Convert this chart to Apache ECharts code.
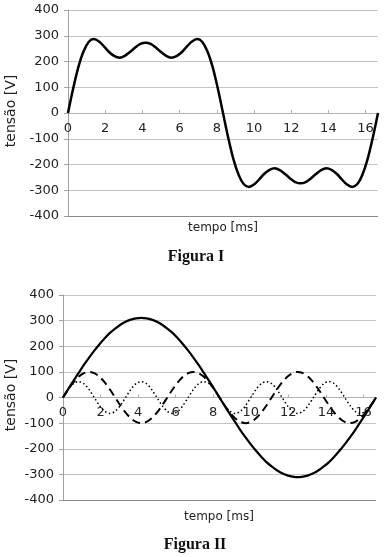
<!DOCTYPE html>
<html>
<head>
<meta charset="utf-8">
<script src="https://cdn.jsdelivr.net/npm/echarts@6/dist/echarts.min.js"></script>
<style>
html,body{margin:0;padding:0;background:#fff;}
#c{width:386px;height:557px;}
</style>
</head>
<body>
<div id="c"></div>
<script>
// time samples [ms]
var tempo = [0,0.278,0.556,0.833,1.111,1.389,1.667,1.944,2.222,2.5,2.778,3.056,3.333,3.611,3.889,4.167,4.444,4.722,5,5.278,5.556,5.833,6.111,6.389,6.667,6.944,7.222,7.5,7.778,8.056,8.333,8.611,8.889,9.167,9.444,9.722,10,10.278,10.556,10.833,11.111,11.389,11.667,11.944,12.222,12.5,12.778,13.056,13.333,13.611,13.889,14.167,14.444,14.722,15,15.278,15.556,15.833,16.111,16.389,16.667];
// Figura I: resulting voltage [V]
var tensaoTotal = [0,95,178,239,276,287,278,258,236,221,215,222,237,254,268,273,268,254,237,222,215,221,236,258,278,287,276,239,178,95,0,-95,-178,-239,-276,-287,-278,-258,-236,-221,-215,-222,-237,-254,-268,-273,-268,-254,-237,-222,-215,-221,-236,-258,-278,-287,-276,-239,-178,-95,0];
// Figura II: fundamental (solid)
var fundamental = [0,33,65,96,127,156,183,208,231,252,269,284,296,304,309,311,309,304,296,284,269,252,231,208,183,156,127,96,65,33,0,-33,-65,-96,-127,-156,-183,-208,-231,-252,-269,-284,-296,-304,-309,-311,-309,-304,-296,-284,-269,-252,-231,-208,-183,-156,-127,-96,-65,-33,0];
// Figura II: 3rd harmonic (dashed)
var harm3 = [0,31,59,81,95,100,95,81,59,31,0,-31,-59,-81,-95,-100,-95,-81,-59,-31,0,31,59,81,95,100,95,81,59,31,0,-31,-59,-81,-95,-100,-95,-81,-59,-31,0,31,59,81,95,100,95,81,59,31,0,-31,-59,-81,-95,-100,-95,-81,-59,-31,0];
// Figura II: 5th harmonic (dotted)
var harm5 = [0,31,54,62,54,31,0,-31,-54,-62,-54,-31,0,31,54,62,54,31,0,-31,-54,-62,-54,-31,0,31,54,62,54,31,0,-31,-54,-62,-54,-31,0,31,54,62,54,31,0,-31,-54,-62,-54,-31,0,31,54,62,54,31,0,-31,-54,-62,-54,-31,0];
var xTicks = [0,2,4,6,8,10,12,14,16];
var yTicks = [-400,-300,-200,-100,0,100,200,300,400];
var xTitle = 'tempo [ms]';
var yTitle = 'tensão [V]';
var titles = ['Figura I', 'Figura II'];

function pairs(ys){ return tempo.map(function(t,i){ return [t, ys[i]]; }); }

var font = '"DejaVu Sans", sans-serif';
var gridColors = ['#8a8a8a','#c4c4c4','#c4c4c4','#c4c4c4','#c4c4c4','#c4c4c4','#c4c4c4','#c4c4c4','#c4c4c4'];

function xAx(gi, off){
  return {
    type:'value', gridIndex:gi, position:'bottom', offset:off,
    min:0, max:tempo[tempo.length-1], interval:2,
    axisLine:{show:true, onZero:false, lineStyle:{color:'#b0b0b0', width:1}},
    axisTick:{show:true, inside:true, length:3, lineStyle:{color:'#b0b0b0'}},
    splitLine:{show:false},
    axisLabel:{color:'#222', fontFamily:font, fontSize:13, margin:9, showMaxLabel:false,
      formatter:function(v){ return xTicks.indexOf(v) >= 0 ? String(v) : ''; }}
  };
}
function yAx(gi){
  return {
    type:'value', gridIndex:gi, min:yTicks[0], max:yTicks[yTicks.length-1], interval:100,
    axisLine:{show:true, lineStyle:{color:'#a0a0a0', width:1}},
    axisTick:{show:true, length:4, lineStyle:{color:'#a0a0a0'}},
    splitLine:{show:true, lineStyle:{color:gridColors, width:1}},
    axisLabel:{color:'#222', fontFamily:font, fontSize:13, margin:9}
  };
}

var chart = echarts.init(document.getElementById('c'), null, {renderer:'canvas'});
chart.setOption({
  animation:false,
  backgroundColor:'#fff',
  grid:[
    {left:68, right:8, top:10, height:206},
    {left:63, right:10, top:295, height:205}
  ],
  xAxis:[xAx(0, -103), xAx(1, -102.5)],
  yAxis:[yAx(0), yAx(1)],
  series:[
    {type:'line', xAxisIndex:0, yAxisIndex:0, data:pairs(tensaoTotal), smooth:0.3, showSymbol:false,
      lineStyle:{color:'#000', width:2.5}},
    {type:'line', xAxisIndex:1, yAxisIndex:1, data:pairs(harm5), smooth:0.3, showSymbol:false,
      lineStyle:{color:'#000', width:1.5, type:[1.5,2.5]}},
    {type:'line', xAxisIndex:1, yAxisIndex:1, data:pairs(harm3), smooth:0.3, showSymbol:false,
      lineStyle:{color:'#000', width:2, type:[8,5]}},
    {type:'line', xAxisIndex:1, yAxisIndex:1, data:pairs(fundamental), smooth:0.3, showSymbol:false,
      lineStyle:{color:'#000', width:2.2}}
  ],
  graphic:[
    {type:'text', x:223, y:228, style:{text:xTitle, font:'12px "DejaVu Sans"', fill:'#222', textAlign:'center', textVerticalAlign:'middle'}},
    {type:'text', x:11, y:111, rotation:Math.PI/2, style:{text:yTitle, font:'14px "DejaVu Sans"', fill:'#222', textAlign:'center', textVerticalAlign:'middle'}},
    {type:'text', x:196, y:257, style:{text:titles[0], font:'bold 16px "Liberation Serif"', fill:'#111', textAlign:'center', textVerticalAlign:'middle'}},
    {type:'text', x:219, y:517, style:{text:xTitle, font:'12px "DejaVu Sans"', fill:'#222', textAlign:'center', textVerticalAlign:'middle'}},
    {type:'text', x:11, y:395, rotation:Math.PI/2, style:{text:yTitle, font:'14px "DejaVu Sans"', fill:'#222', textAlign:'center', textVerticalAlign:'middle'}},
    {type:'text', x:195, y:545, style:{text:titles[1], font:'bold 16px "Liberation Serif"', fill:'#111', textAlign:'center', textVerticalAlign:'middle'}}
  ]
});
</script>
</body>
</html>
